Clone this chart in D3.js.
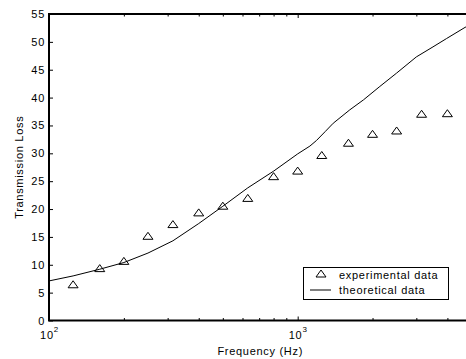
<!DOCTYPE html>
<html>
<head>
<meta charset="utf-8">
<script src="https://cdn.jsdelivr.net/npm/d3@7"></script>
<style>
  body { margin: 0; background: #fff; }
  svg { display: block; font-family: "Liberation Sans", Arial, sans-serif; }
  .lbl { font-size: 11px; letter-spacing: 0.7px; fill: #000; }
</style>
</head>
<body>
<svg width="466" height="359"></svg>
<script>
// experimental points (1/3 octave bands)
var expFreq = [125, 160, 200, 250, 315, 400, 500, 630, 800, 1000, 1250, 1600, 2000, 2500, 3150, 4000];
var expTL = [6.5, 9.4, 10.7, 15.2, 17.3, 19.4, 20.6, 22.0, 25.9, 26.9, 29.7, 31.9, 33.5, 34.1, 37.1, 37.2];

// theoretical curve
var theoFreq = [100, 125, 160, 200, 250, 315, 400, 500, 630, 800, 1000, 1120, 1190, 1290, 1390, 1620, 1840, 2140, 2500, 3000, 3500, 3970, 4710, 5000];
var theoTL = [7.1, 8.0, 9.2, 10.4, 12.1, 14.3, 17.4, 20.5, 23.8, 26.8, 29.9, 31.3, 32.3, 33.9, 35.4, 37.8, 39.6, 42.0, 44.4, 47.3, 49.1, 50.6, 52.6, 53.2];

var yTicks = [0, 5, 10, 15, 20, 25, 30, 35, 40, 45, 50, 55];
var xMajor = [100, 1000];
var xMinor = [200, 300, 400, 500, 600, 700, 800, 900, 2000, 3000, 4000];
var xExp = ["2", "3"];

var svg = d3.select("svg"),
    pLeft = 49, pRight = 471.5, pTop = 14, pBottom = 320.5;

var x = d3.scaleLog().domain([100, 5000]).range([pLeft, pRight]),
    y = d3.scaleLinear().domain([0, 55]).range([pBottom, pTop]);

// white background
svg.append("rect").attr("width", 466).attr("height", 359).attr("fill", "#fff");

// theoretical line
var line = d3.line()
    .x(function(d) { return x(d[0]); })
    .y(function(d) { return y(d[1]); });

svg.append("path")
    .datum(d3.zip(theoFreq, theoTL))
    .attr("d", line)
    .attr("fill", "none")
    .attr("stroke", "#000")
    .attr("stroke-width", 1);

// triangle markers
var tri = "M0,-3.5L5,3.5L-5,3.5Z";
svg.selectAll(".pt")
    .data(d3.zip(expFreq, expTL))
    .enter().append("path")
    .attr("class", "pt")
    .attr("d", tri)
    .attr("transform", function(d) { return "translate(" + x(d[0]) + "," + y(d[1]) + ")"; })
    .attr("fill", "none")
    .attr("stroke", "#000")
    .attr("stroke-width", 1);

// y ticks + labels
var yAxis = svg.append("g")
    .attr("transform", "translate(" + pLeft + ",0)")
    .call(d3.axisLeft(y).tickValues(yTicks).tickSizeInner(-4).tickSizeOuter(0).tickPadding(4));
yAxis.select(".domain").remove();
yAxis.attr("font-size", null).attr("font-family", null);
yAxis.selectAll("line").attr("stroke", "#000");
yAxis.selectAll("text").attr("class", "lbl");

// x ticks bottom and top (major and minor)
function xTicks(axisFn, vals, size, ypos) {
  var g = svg.append("g")
      .attr("transform", "translate(0," + ypos + ")")
      .call(axisFn(x).tickValues(vals).tickSizeInner(-size).tickSizeOuter(0).tickFormat(""));
  g.select(".domain").remove();
  g.selectAll("line").attr("stroke", "#000");
}
xTicks(d3.axisBottom, xMajor, 4, pBottom);
xTicks(d3.axisBottom, xMinor, 2.5, pBottom);
xTicks(d3.axisTop, xMajor, 4, pTop);
xTicks(d3.axisTop, xMinor, 2.5, pTop);

// x tick labels with superscripts
var xl = svg.selectAll(".xl")
    .data(xMajor)
    .enter().append("text")
    .attr("class", "lbl")
    .attr("x", function(d) { return x(d) + 0.5; })
    .attr("y", 339)
    .attr("text-anchor", "middle");
xl.append("tspan").text("10");
xl.append("tspan")
    .attr("dy", -7)
    .style("font-size", "8px")
    .text(function(d, i) { return xExp[i]; });

// frame
svg.append("rect")
    .attr("x", pLeft).attr("y", pTop)
    .attr("width", pRight - pLeft).attr("height", pBottom - pTop)
    .attr("fill", "none")
    .attr("stroke", "#000")
    .attr("stroke-width", 2);

// axis titles
svg.append("text")
    .attr("class", "lbl")
    .attr("x", (pLeft + pRight) / 2)
    .attr("y", 354.5)
    .attr("text-anchor", "middle")
    .text("Frequency  (Hz)");

svg.append("text")
    .attr("class", "lbl")
    .attr("transform", "translate(22.5," + ((pTop + pBottom) / 2) + ") rotate(-90)")
    .attr("text-anchor", "middle")
    .text("Transmission Loss");

// legend
var lg = svg.append("g");
lg.append("rect")
    .attr("x", 303.5).attr("y", 267.5)
    .attr("width", 145).attr("height", 32)
    .attr("fill", "#fff")
    .attr("stroke", "#000")
    .attr("stroke-width", 1);
lg.append("path")
    .attr("d", tri)
    .attr("transform", "translate(321,273.5)")
    .attr("fill", "none")
    .attr("stroke", "#000");
lg.append("line")
    .attr("x1", 310).attr("x2", 331)
    .attr("y1", 290).attr("y2", 290)
    .attr("stroke", "#000");
lg.append("text").attr("class", "lbl").attr("x", 339).attr("y", 278.5).text("experimental data");
lg.append("text").attr("class", "lbl").attr("x", 339).attr("y", 293.5).text("theoretical data");
</script>
</body>
</html>
